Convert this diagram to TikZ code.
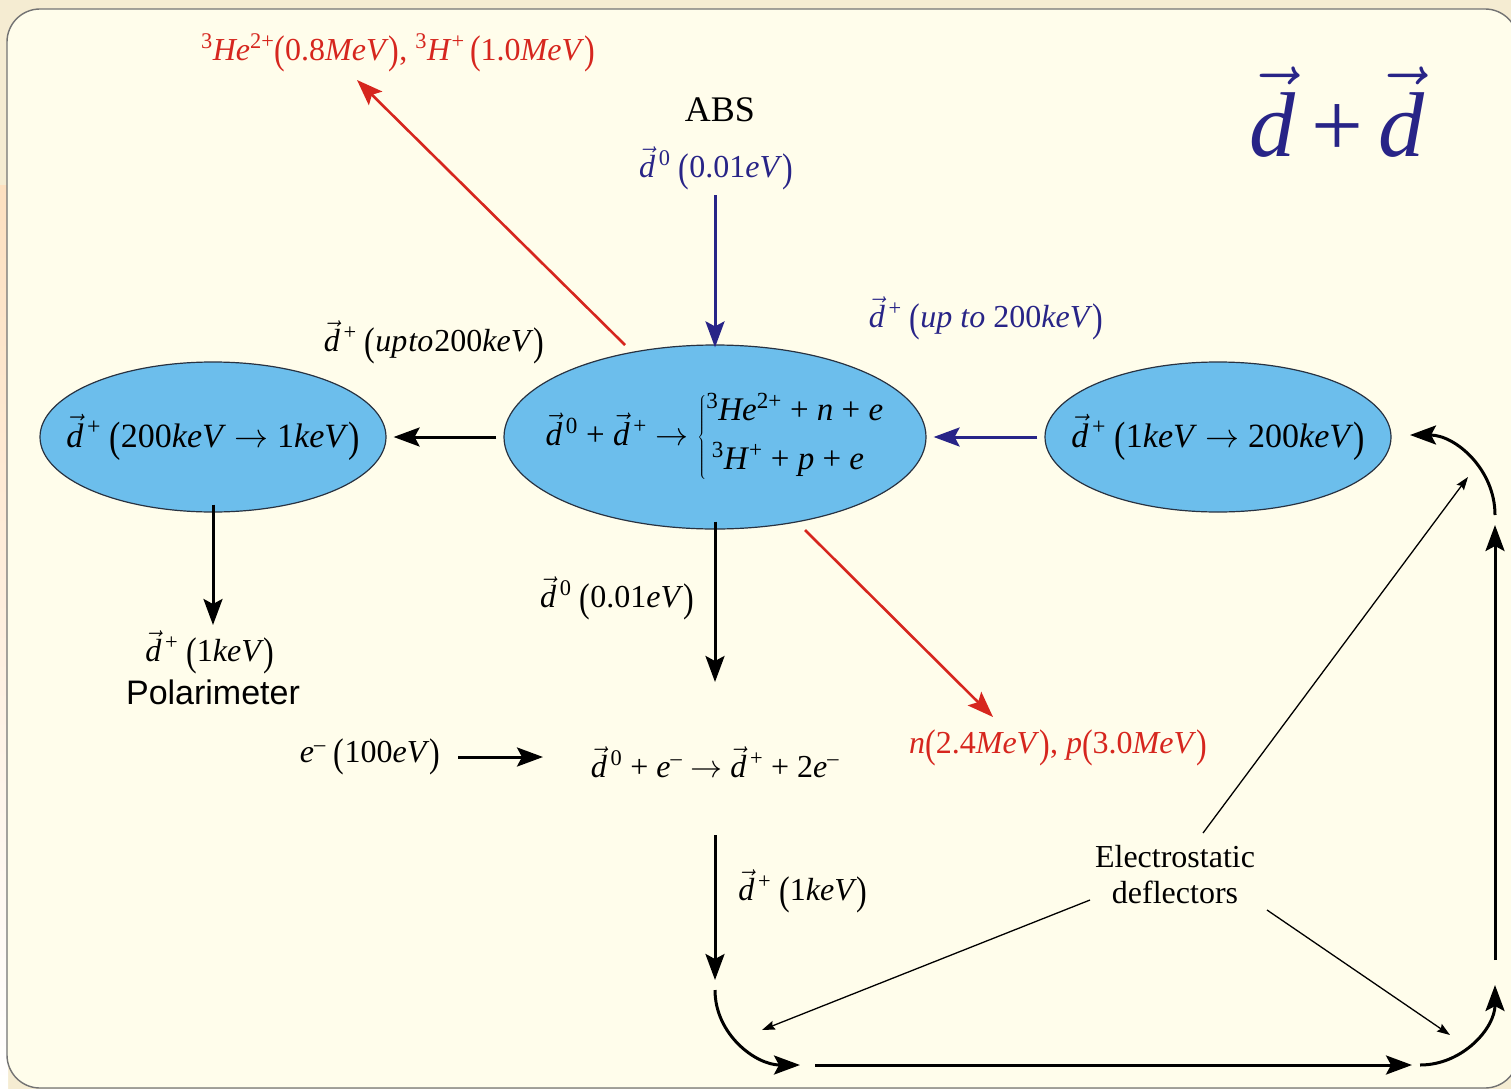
\RequirePackage{fix-cm}
\documentclass[tikz,border=0pt]{standalone}
\usepackage{graphicx}
\usepackage{fontspec}
\setmainfont{Liberation Serif}
\newfontfamily\sansf{Liberation Sans}
\usetikzlibrary{arrows.meta,shapes.geometric}
\definecolor{outerbg}{RGB}{245,236,210}
\definecolor{panelbg}{RGB}{255,253,235}
\definecolor{peach}{RGB}{253,224,192}
\definecolor{navy}{RGB}{40,36,135}
\definecolor{redc}{RGB}{214,38,30}
\definecolor{ellfill}{RGB}{108,190,236}
\definecolor{elldraw}{RGB}{40,50,65}
\newcommand\vd{\ensuremath{\vec{\textit{d}}}}
\newcommand\lp{\raisebox{-0.12em}{\scalebox{1}[1.25]{(}}}
\newcommand\rp{\raisebox{-0.12em}{\scalebox{1}[1.25]{)}}}
\newcommand\sps[1]{\textsuperscript{#1}}
\tikzset{
  txt/.style={inner sep=0pt, font=\fontsize{32}{38}\selectfont},
  ell/.style={ellipse, draw=elldraw, line width=1.2pt, fill=ellfill, inner sep=0pt},
  bigarr/.style={line width=3pt, -{Stealth[length=26pt,width=19pt,inset=5pt]}},
  thinarr/.style={line width=1.3pt, -{Stealth[length=13pt,width=9pt,inset=2pt]}},
}
\begin{document}
\begin{tikzpicture}[x=1pt,y=-1pt]
\useasboundingbox (0,0) rectangle (1511,1089);
% background
\fill[outerbg] (0,0) rectangle (1511,1089);
\shade[top color=peach, bottom color=white] (0,185) rectangle (8,1089);
\begin{scope}
\clip (0,0) rectangle (1511,1089);
\draw[rounded corners=33pt, fill=panelbg, draw=black!55, line width=1.4pt] (7,9) rectangle (1518,1088);
\end{scope}

% ellipses
\node[ell, minimum width=346pt, minimum height=150pt] (ellL) at (213,437) {};
\node[ell, minimum width=422pt, minimum height=184pt] (ellC) at (715,437) {};
\node[ell, minimum width=346pt, minimum height=150pt] (ellR) at (1218,437) {};

\node[txt, font=\fontsize{34}{40}\selectfont] (tL) at (213,437) {\vd\sps{\,+}\ \lp200\textit{keV} $\rightarrow$ 1\textit{keV}\rp};
\node[txt, font=\fontsize{34}{40}\selectfont] (tR) at (1218,437) {\vd\sps{\,+}\ \lp1\textit{keV} $\rightarrow$ 200\textit{keV}\rp};
\node[txt, font=\fontsize{33}{40}\selectfont] (tC) at (715,437) {\vd\sps{\,0} + \vd\sps{\,+} $\rightarrow\left\{\rule[-34pt]{0pt}{78pt}\begin{array}{@{}l@{}}\mbox{\sps{3}\textit{He}\sps{2+} + \textit{n} + \textit{e}}\\[9pt] \mbox{\,\sps{3}\textit{H}\sps{+} + \textit{p} + \textit{e}}\end{array}\right.$};

% texts
\node[txt, text=redc] (redTop) at (398,53) {\sps{3}\textit{He}\sps{2+}\lp0.8\textit{MeV}\rp, \sps{3}\textit{H}\sps{+}\,\lp1.0\textit{MeV}\rp};
\node[txt, font=\fontsize{36}{40}\selectfont] (abs) at (720,110) {ABS};
\node[txt, text=navy] (d0top) at (716,168) {\vd\sps{\,0}\ \lp0.01\textit{eV}\rp};
\node[txt, text=navy, font=\fontsize{92}{100}\selectfont] (dd) at (1337,112) {\vd\,+\,\vd};
\node[txt, text=navy] (upR) at (986,318) {\vd\sps{\,+}\ \lp\textit{up to} 200\textit{keV}\rp};
\node[txt] (upL) at (434,342) {\vd\sps{\,+}\ \lp\textit{up\kern1pt to\kern1pt}200\textit{keV}\rp};
\node[txt] (d1L) at (210,652) {\vd\sps{\,+}\ \lp1\textit{keV}\rp};
\node[txt, font=\fontsize{34}{40}\sansf] (polar) at (213,692) {Polarimeter};
\node[txt] (d0mid) at (617,598) {\vd\sps{\,0}\ \lp0.01\textit{eV}\rp};
\node[txt, text=redc] (redBot) at (1058,748) {\textit{n}\lp2.4\textit{MeV}\rp, \textit{p}\lp3.0\textit{MeV}\rp};
\node[txt] (em) at (370,757) {\textit{e}\sps{--}\ \lp100\textit{eV}\rp};
\node[txt] (react) at (715,762) {\vd\sps{\,0} + \textit{e}\sps{--} $\rightarrow$ \vd\sps{\,+} + 2\textit{e}\sps{--}};
\node[txt] (d1B) at (803,891) {\vd\sps{\,+}\ \lp1\textit{keV}\rp};
\node[txt, align=center, font=\fontsize{32}{36}\selectfont] (electro) at (1175,875) {Electrostatic\\deflectors};

% coordinates
\coordinate (r1s) at (625,345);
\coordinate (r1e) at (357,80);
\coordinate (r2s) at (805,530);
\coordinate (r2e) at (993,717);
\coordinate (nvS) at (715,195);
\coordinate (pLe) at (213,625);
\coordinate (cDe) at (715,682);
\coordinate (emS) at (458,757);
\coordinate (emE) at (543,757);
\coordinate (dDs) at (715,835);
\coordinate (dDe) at (715,980);
\coordinate (blS) at (715,990);
\coordinate (blE) at (800,1065);
\coordinate (bS) at (815,1065);
\coordinate (bE) at (1412,1065);
\coordinate (brS) at (1420,1065);
\coordinate (brE) at (1495,985);
\coordinate (vS) at (1495,960);
\coordinate (vE) at (1495,525);
\coordinate (trS) at (1495,515);
\coordinate (trE) at (1410,435);
\coordinate (t1s) at (1203,833);
\coordinate (t1e) at (1468,477);
\coordinate (t2s) at (1090,900);
\coordinate (t2e) at (762,1030);
\coordinate (t3s) at (1267,910);
\coordinate (t3e) at (1450,1035);

% arrows
\draw[bigarr, redc, line width=2.6pt] (r1s) -- (r1e);
\draw[bigarr, redc, line width=2.6pt] (r2s) -- (r2e);
\draw[bigarr, navy] (nvS) -- ([yshift=-3pt]ellC.north);
\draw[bigarr, navy] ([xshift=-7pt]ellR.west) -- ([xshift=7pt]ellC.east);
\draw[bigarr] ([xshift=-7pt]ellC.west) -- ([xshift=7pt]ellL.east);
\draw[bigarr] ([yshift=8pt]ellL.south) -- (pLe);
\draw[bigarr] ([yshift=8pt]ellC.south) -- (cDe);
\draw[bigarr] (emS) -- (emE);
\draw[bigarr] (dDs) -- (dDe);
\draw[bigarr] (blS) to[out=-90, in=180] (blE);
\draw[bigarr] (bS) -- (bE);
\draw[bigarr] (brS) to[out=0, in=-90] (brE);
\draw[bigarr] (vS) -- (vE);
\draw[bigarr] (trS) to[out=90, in=0] (trE);
\draw[thinarr] (t1s) -- (t1e);
\draw[thinarr] (t2s) -- (t2e);
\draw[thinarr] (t3s) -- (t3e);
\end{tikzpicture}
\end{document}
